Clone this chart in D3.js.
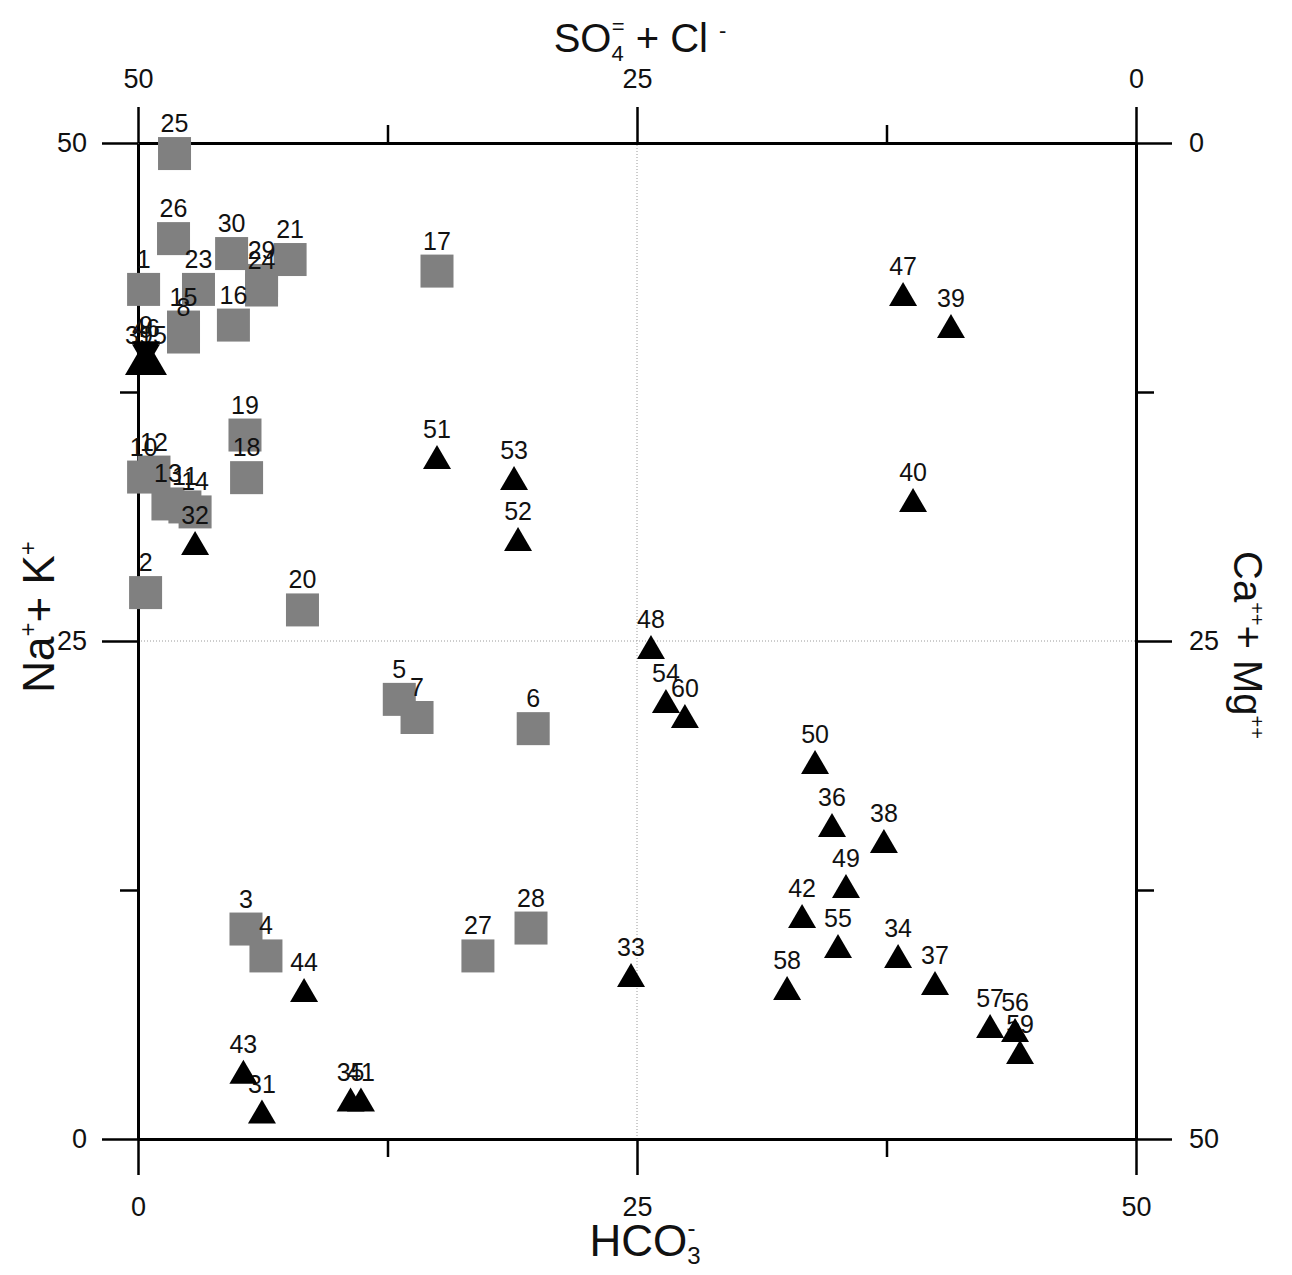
<!DOCTYPE html>
<html><head><meta charset="utf-8">
<script src="https://cdn.jsdelivr.net/npm/d3@7"></script>
<style>
body{margin:0;background:#fff}
svg{display:block}
text{font-family:"Liberation Sans",Arial,Helvetica,sans-serif}
</style>
</head><body>
<svg id="chart" width="1292" height="1275"></svg>
<script>
// ---- data (HCO3- on x, Na+ + K+ on y, meq %) ----
const squareLabels = ["25","26","30","21","29","24","1","23","16","15","8","17","19","18","10","12","13","11","14","2","20","5","7","6","3","4","27","28"];
const squareHCO3  = [1.83,1.78,4.69,7.62,6.19,6.19,0.28,3.03,4.78,2.28,2.28,14.98,5.36,5.44,0.28,0.80,1.50,2.35,2.86,0.38,8.24,13.09,13.98,19.80,5.41,6.41,17.03,19.69];
const squareNaK   = [49.47,45.20,44.45,44.15,43.10,42.62,42.65,42.65,40.86,40.76,40.26,43.57,35.34,33.20,33.23,33.48,31.88,31.73,31.48,27.43,26.56,22.07,21.16,20.60,10.54,9.19,9.19,10.59];

const triangleLabels = ["47","39","51","53","52","40","32","48","54","60","50","36","38","49","42","55","34","37","58","33","44","57","56","59","43","31","35","41"];
const triangleHCO3  = [38.33,40.73,14.98,18.84,19.04,38.83,2.86,25.70,26.45,27.40,33.92,34.77,37.37,35.47,33.27,35.07,38.08,39.93,32.52,24.70,8.32,42.69,43.94,44.19,5.28,6.21,10.65,11.17];
const triangleNaK   = [42.42,40.81,34.24,33.18,30.12,32.08,29.92,24.70,21.99,21.23,18.93,15.76,14.96,12.70,11.19,9.69,9.19,7.83,7.58,8.23,7.48,5.67,5.47,4.37,3.38,1.38,1.98,1.98];

const starLabels   = ["39","9","15","46"];
const starHCO3     = [0.05,0.40,0.75,0.40];
const starNaK      = [38.95,39.45,38.95,39.30];
const starPointing = ["up","down","up","down"];

const majorTicks = [0,25,50];
const minorTicks = [12.5,37.5];

// ---- layout ----
const svg = d3.select("#chart");
const x = d3.scaleLinear().domain([0,50]).range([138,1136]);
const y = d3.scaleLinear().domain([0,50]).range([1139,143]);
const xTop = d3.scaleLinear().domain([50,0]).range([138,1136]);
const yRight = d3.scaleLinear().domain([0,50]).range([143,1139]);

const MAJ = 36, MIN = 18;

// grid (dotted) at 25
svg.append("line").attr("x1",x(25)).attr("x2",x(25)).attr("y1",y(0)).attr("y2",y(50))
  .attr("stroke","#9a9a9a").attr("stroke-width",1).attr("stroke-dasharray","1,2");
svg.append("line").attr("x1",x(0)).attr("x2",x(50)).attr("y1",y(25)).attr("y2",y(25))
  .attr("stroke","#9a9a9a").attr("stroke-width",1).attr("stroke-dasharray","1,2");

function styleAxis(g){
  g.attr("font-size",null).attr("font-family",null);
  g.select(".domain").attr("stroke","#000").attr("stroke-width",3);
  g.selectAll(".tick line").attr("stroke","#000").attr("stroke-width",2.5);
  g.selectAll(".tick text").attr("fill","#111").style("font-size","27px");
}
function addAxis(axisFn, scale, transform, pad){
  const g = svg.append("g").attr("transform",transform)
    .call(axisFn(scale).tickValues(majorTicks).tickSize(MAJ).tickSizeOuter(0).tickPadding(pad).tickFormat(d3.format("d")));
  styleAxis(g);
  const m = svg.append("g").attr("transform",transform)
    .call(axisFn(scale).tickValues(minorTicks).tickSize(MIN).tickSizeOuter(0).tickFormat(""));
  m.select(".domain").remove();
  m.selectAll(".tick line").attr("stroke","#000").attr("stroke-width",2.5);
}
addAxis(d3.axisBottom, x, `translate(0,${y(0)})`, 22);
addAxis(d3.axisTop, xTop, `translate(0,${y(50)})`, 19);
addAxis(d3.axisLeft, y, `translate(${x(0)},0)`, 15);
addAxis(d3.axisRight, yRight, `translate(${x(50)},0)`, 17);

// ---- markers ----
const SQ = 33, TW = 14, TH = 12;
const squares = squareLabels.map((l,i)=>({l, x:squareHCO3[i], y:squareNaK[i]}));
const tris = triangleLabels.map((l,i)=>({l, x:triangleHCO3[i], y:triangleNaK[i], dir:"up"}));
const stars = starLabels.map((l,i)=>({l, x:starHCO3[i], y:starNaK[i], dir:starPointing[i]}));

svg.append("g").selectAll("rect").data(squares).join("rect")
  .attr("x",d=>x(d.x)-SQ/2).attr("y",d=>y(d.y)-SQ/2)
  .attr("width",SQ).attr("height",SQ).attr("fill","#808080");

function triPath(d){
  const cx = x(d.x), cy = y(d.y);
  const p = d3.path();
  if(d.dir==="up"){ p.moveTo(cx,cy-TH); p.lineTo(cx+TW,cy+TH); p.lineTo(cx-TW,cy+TH); }
  else { p.moveTo(cx,cy+TH); p.lineTo(cx+TW,cy-TH); p.lineTo(cx-TW,cy-TH); }
  p.closePath();
  return p.toString();
}

// ---- point labels ----
const lg = svg.append("g").attr("font-size",25).attr("fill","#111").attr("text-anchor","middle");
lg.selectAll("text.sq").data(squares).join("text").attr("class","sq")
  .attr("x",d=>x(d.x)).attr("y",d=>y(d.y)-SQ/2-5).text(d=>d.l);
lg.selectAll("text.tr").data(tris.concat(stars)).join("text").attr("class","tr")
  .attr("x",d=>x(d.x)).attr("y",d=>y(d.y)-TH-7).text(d=>d.l);

svg.append("g").selectAll("path").data(tris.concat(stars)).join("path")
  .attr("d",triPath).attr("fill","#000");

// ---- axis titles ----
const titleTop = svg.append("text").attr("x",640).attr("y",52).attr("text-anchor","middle").attr("font-size",40).attr("fill","#111");
titleTop.append("tspan").text("SO");
titleTop.append("tspan").attr("font-size",22).attr("dy",9).text("4");
titleTop.append("tspan").attr("font-size",22).attr("dx",-12).attr("dy",-27).text("=");
titleTop.append("tspan").attr("dy",18).text(" + Cl ");
titleTop.append("tspan").attr("font-size",22).attr("dy",-14).text("-");

const titleBottom = svg.append("text").attr("x",645).attr("y",1256).attr("text-anchor","middle").attr("font-size",44).attr("fill","#111");
titleBottom.append("tspan").text("HCO");
titleBottom.append("tspan").attr("font-size",24).attr("dy",8).text("3");
titleBottom.append("tspan").attr("font-size",24).attr("dx",-13).attr("dy",-28).text("-");

const titleLeft = svg.append("text").attr("transform","translate(54,617) rotate(-90)").attr("text-anchor","middle").attr("font-size",44).attr("fill","#111");
titleLeft.append("tspan").text("Na");
titleLeft.append("tspan").attr("font-size",24).attr("dy",-18).text("+");
titleLeft.append("tspan").attr("dy",18).text("+ K");
titleLeft.append("tspan").attr("font-size",24).attr("dy",-18).text("+");

const titleRight = svg.append("text").attr("transform","translate(1234,645) rotate(90)").attr("text-anchor","middle").attr("font-size",40).attr("fill","#111");
titleRight.append("tspan").text("Ca");
titleRight.append("tspan").attr("font-size",20).attr("dy",-16).text("++");
titleRight.append("tspan").attr("dy",16).text("+ Mg");
titleRight.append("tspan").attr("font-size",20).attr("dy",-16).text("++");
</script>
</body></html>
